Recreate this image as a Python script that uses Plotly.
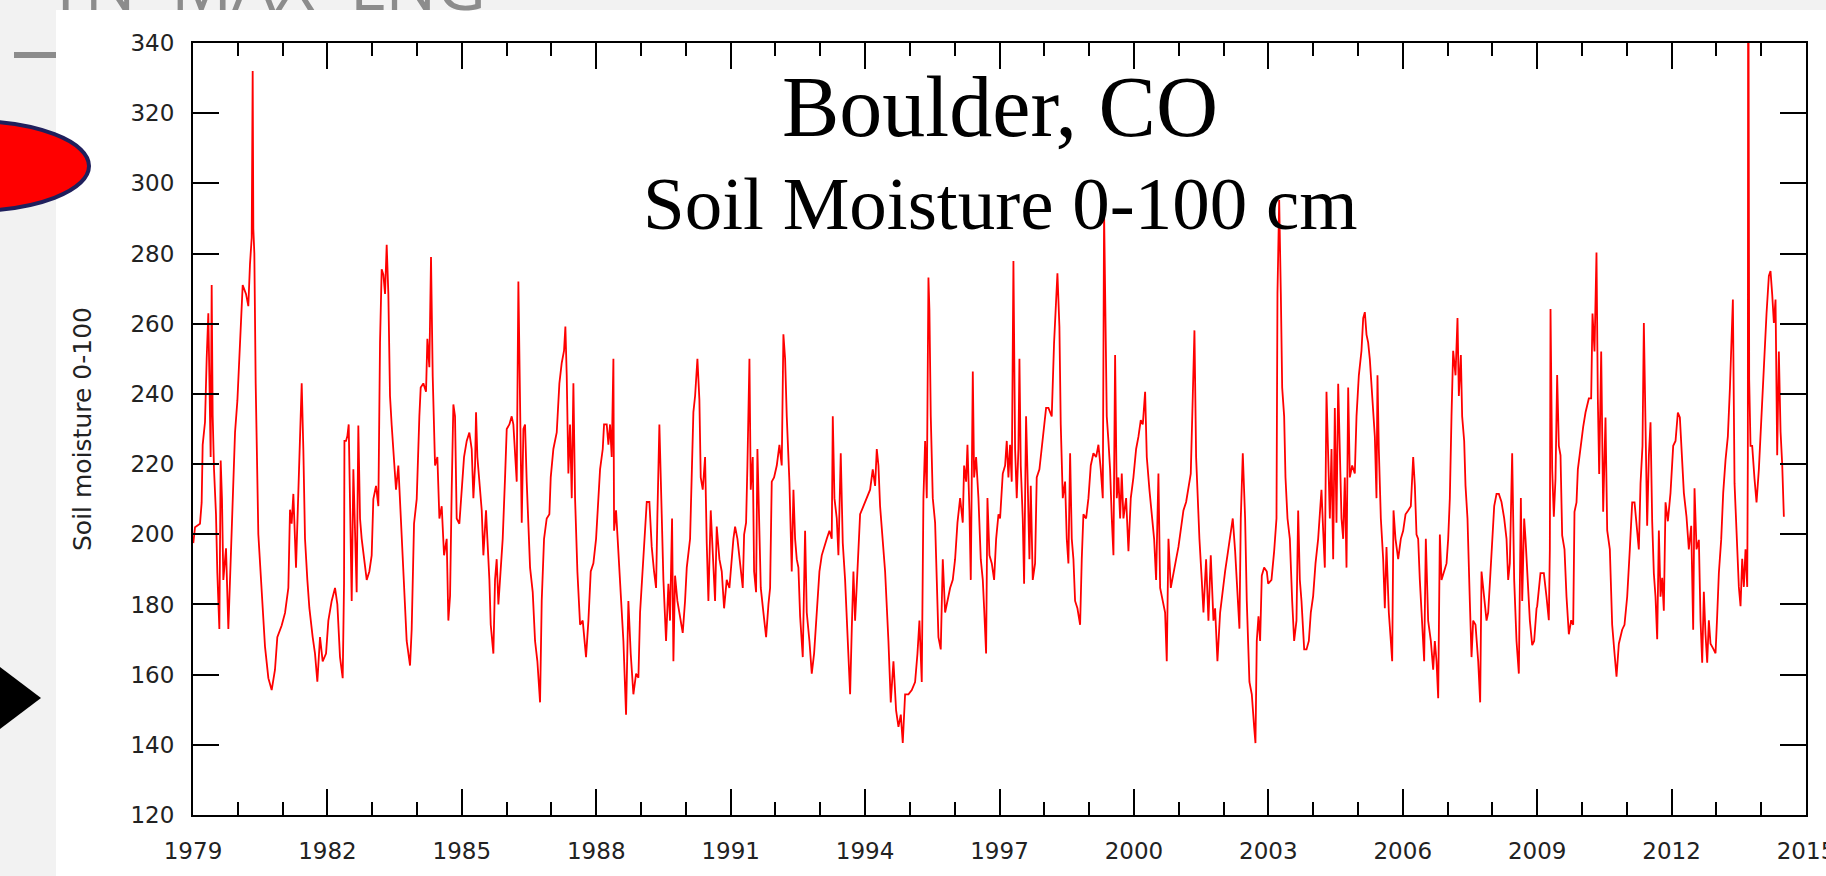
import plotly.graph_objects as go

# ---------------- data (year, soil moisture 0-100 cm) ----------------
seg_1979_1985 = [
    (1979.007, 197.5), (1979.045, 202), (1979.156, 203), (1979.193, 209), (1979.216, 225.5),
    (1979.268, 232), (1979.305, 250), (1979.342, 263), (1979.365, 245), (1979.394, 222),
    (1979.417, 271), (1979.439, 234), (1979.469, 218.5), (1979.513, 205.7), (1979.543, 189),
    (1979.588, 173), (1979.618, 221), (1979.647, 210), (1979.677, 187), (1979.737, 196),
    (1979.789, 173), (1979.826, 187), (1979.885, 206), (1979.938, 229), (1979.990, 238),
    (1980.049, 257), (1980.109, 271), (1980.183, 268.5), (1980.235, 265), (1980.272, 277),
    (1980.310, 284.5), (1980.332, 332), (1980.347, 287), (1980.369, 280), (1980.399, 243),
    (1980.458, 200), (1980.533, 183.5), (1980.607, 168), (1980.682, 159), (1980.756, 155.6),
    (1980.830, 161.4), (1980.882, 170.7), (1980.979, 174), (1981.054, 177.6), (1981.128, 184.7),
    (1981.165, 207), (1981.202, 203), (1981.240, 211.5), (1981.299, 190.5), (1981.351, 212.7),
    (1981.388, 223), (1981.426, 243), (1981.463, 224), (1981.500, 198.7), (1981.552, 187),
    (1981.597, 179), (1981.671, 170.7), (1981.723, 166), (1981.775, 158), (1981.835, 170.7),
    (1981.894, 163.8), (1981.969, 166), (1982.021, 175.4), (1982.095, 181), (1982.170, 184.7),
    (1982.222, 180), (1982.281, 165), (1982.341, 159), (1982.371, 186), (1982.380, 226.6),
    (1982.415, 226.6), (1982.445, 228), (1982.475, 231.3), (1982.504, 208), (1982.542, 181),
    (1982.579, 218.5), (1982.616, 198.7), (1982.653, 183.5), (1982.690, 231), (1982.728, 204.5),
    (1982.765, 198.7), (1982.817, 193), (1982.877, 187), (1982.936, 189.4), (1982.988, 194),
    (1983.025, 210), (1983.085, 213.8), (1983.137, 208), (1983.174, 254.6), (1983.211, 275.5),
    (1983.249, 274), (1983.286, 268.5), (1983.323, 282.5), (1983.360, 268.5), (1983.397, 239.4),
    (1983.435, 231), (1983.487, 222), (1983.531, 212.7), (1983.583, 219.6), (1983.635, 204.5),
    (1983.695, 187), (1983.769, 169.6), (1983.844, 162.6), (1983.881, 173), (1983.933, 203),
    (1983.993, 210), (1984.052, 233.6), (1984.082, 241.8), (1984.141, 243), (1984.201, 240.6),
    (1984.231, 255.7), (1984.275, 247.6), (1984.312, 279), (1984.350, 245), (1984.402, 219.6),
    (1984.454, 222), (1984.499, 204.5), (1984.551, 208), (1984.603, 194), (1984.662, 198.7),
    (1984.699, 175.4), (1984.737, 182.4), (1984.774, 212.7), (1984.811, 237), (1984.848, 233.6),
    (1984.885, 204.5), (1984.945, 203),
]

seg_1985_1991 = [
    (1984.997, 212.7), (1985.049, 222), (1985.109, 226.6), (1985.168, 229), (1985.220, 224.3),
    (1985.258, 210.3), (1985.295, 219.6), (1985.317, 234.8), (1985.347, 222), (1985.392, 213.8),
    (1985.444, 206.8), (1985.481, 194), (1985.540, 206.8), (1985.570, 198.7), (1985.615, 187),
    (1985.645, 174.2), (1985.704, 166), (1985.741, 187), (1985.778, 192.9), (1985.816, 180),
    (1985.868, 189.4), (1985.912, 198.7), (1985.964, 216), (1986.002, 230), (1986.061, 231.3),
    (1986.113, 233.6), (1986.150, 231.3), (1986.188, 222), (1986.225, 215), (1986.262, 272),
    (1986.299, 234.8), (1986.337, 203.3), (1986.374, 230), (1986.411, 231.3), (1986.448, 215),
    (1986.485, 203.3), (1986.523, 190.5), (1986.582, 183.5), (1986.634, 169.6), (1986.686, 163.8),
    (1986.746, 152.1), (1986.783, 181), (1986.835, 198.7), (1986.894, 204.5), (1986.954, 205.7),
    (1986.984, 216.2), (1987.043, 224.3), (1987.118, 229), (1987.177, 243), (1987.229, 248.8),
    (1987.281, 252.3), (1987.311, 259.2), (1987.341, 245.3), (1987.378, 217.3), (1987.415, 231.3),
    (1987.453, 210.3), (1987.490, 243), (1987.527, 210.3), (1987.579, 189.4), (1987.639, 174.2),
    (1987.698, 175.4), (1987.772, 165), (1987.825, 175.4), (1987.877, 189.4), (1987.936, 191.7),
    (1987.996, 198.7), (1988.048, 210.3), (1988.085, 218.5), (1988.145, 224.3), (1988.174, 231.3),
    (1988.234, 231.3), (1988.271, 225.5), (1988.308, 231.3), (1988.345, 222), (1988.383, 250),
    (1988.398, 201), (1988.442, 206.8), (1988.494, 195.2), (1988.546, 181), (1988.606, 169.6),
    (1988.665, 148.6), (1988.717, 181), (1988.769, 166), (1988.829, 154.4), (1988.889, 160.3),
    (1988.941, 159.1), (1988.978, 177.7), (1989.037, 189.4), (1989.089, 198.7), (1989.127, 209.2),
    (1989.186, 209.2), (1989.238, 196.4), (1989.290, 189.4), (1989.335, 184.7), (1989.365, 205.7),
    (1989.409, 231.3), (1989.461, 205.7), (1989.499, 187), (1989.558, 169.6), (1989.610, 185.9),
    (1989.647, 175.4), (1989.692, 204.5), (1989.722, 163.8), (1989.759, 188.2), (1989.811, 181),
    (1989.871, 176.6), (1989.930, 171.9), (1989.982, 181), (1990.020, 190.5), (1990.094, 198.7),
    (1990.168, 234.8), (1990.206, 239.4), (1990.258, 250), (1990.302, 238.3), (1990.332, 216.2),
    (1990.377, 212.7), (1990.429, 222), (1990.466, 197.5), (1990.503, 181), (1990.555, 206.8),
    (1990.600, 192.9), (1990.652, 181), (1990.689, 202.2), (1990.749, 192.9), (1990.801, 189.4),
    (1990.853, 178.9), (1990.912, 187), (1990.972, 184.7),
]

seg_1991_1997 = [
    (1991.061, 198.7), (1991.099, 202.2), (1991.151, 198.7), (1991.210, 191.7), (1991.270, 184.7),
    (1991.300, 199.9), (1991.344, 203.3), (1991.374, 219.6), (1991.419, 250), (1991.448, 212.7),
    (1991.493, 222), (1991.523, 189.4), (1991.567, 183.5), (1991.597, 224.3), (1991.642, 198.7),
    (1991.672, 184.7), (1991.731, 177.7), (1991.791, 170.7), (1991.843, 180), (1991.880, 184.7),
    (1991.917, 215), (1991.969, 216.2), (1992.029, 219.6), (1992.088, 225.5), (1992.140, 219.6),
    (1992.177, 257), (1992.215, 250), (1992.252, 233.6), (1992.311, 215), (1992.363, 189.4),
    (1992.401, 212.7), (1992.438, 198.7), (1992.475, 192.9), (1992.512, 190.5), (1992.550, 176.6),
    (1992.609, 165), (1992.661, 201), (1992.698, 177.7), (1992.758, 169.6), (1992.810, 160.3),
    (1992.862, 166), (1992.921, 177.7), (1992.981, 189.4), (1993.033, 194), (1993.085, 196.4),
    (1993.145, 198.7), (1993.204, 201), (1993.256, 198.7), (1993.279, 233.6), (1993.316, 210.3),
    (1993.368, 204.5), (1993.405, 194), (1993.457, 223.1), (1993.502, 197.5), (1993.554, 187),
    (1993.606, 169.6), (1993.666, 154.4), (1993.703, 173.1), (1993.740, 189.4), (1993.777, 175.4),
    (1993.829, 189.4), (1993.889, 205.7), (1993.963, 208), (1994.038, 210.3), (1994.112, 212.7),
    (1994.171, 218.5), (1994.224, 213.8), (1994.261, 224.3), (1994.298, 219.6), (1994.335, 208),
    (1994.395, 198.7), (1994.447, 189.4), (1994.521, 169.6), (1994.573, 152.1), (1994.633, 163.8),
    (1994.692, 149.8), (1994.745, 145.1), (1994.797, 148.6), (1994.841, 140.5), (1994.893, 154.4),
    (1994.968, 154.4), (1995.042, 155.6), (1995.116, 157.9), (1995.169, 166), (1995.213, 175.4),
    (1995.265, 157.9), (1995.302, 210.3), (1995.340, 226.6), (1995.377, 210.3), (1995.414, 273.2),
    (1995.436, 264), (1995.466, 233.6), (1995.511, 210.3), (1995.563, 203.3), (1995.600, 187),
    (1995.637, 170.7), (1995.689, 167.2), (1995.734, 192.9), (1995.786, 177.7), (1995.838, 181),
    (1995.898, 184.7), (1995.957, 187), (1996.009, 192.9), (1996.062, 203.3), (1996.121, 210.3),
    (1996.180, 203.3), (1996.210, 219.6), (1996.255, 215), (1996.285, 225.5), (1996.329, 206.8),
    (1996.359, 187), (1996.404, 246.4), (1996.433, 216.2), (1996.478, 222), (1996.530, 210.3),
    (1996.582, 192.9), (1996.627, 187), (1996.657, 178.9), (1996.701, 166), (1996.731, 210.3),
    (1996.776, 194), (1996.828, 191.7), (1996.880, 187), (1996.925, 198.7), (1996.977, 205.7),
]

seg_1997_2003 = [
    (1997.013, 204.5), (1997.073, 217.3), (1997.125, 219.6), (1997.162, 226.6), (1997.199, 216.2),
    (1997.236, 225.5), (1997.273, 215), (1997.311, 277.9), (1997.348, 224.3), (1997.385, 210.3),
    (1997.422, 224.3), (1997.445, 250), (1997.474, 219.6), (1997.519, 204.5), (1997.549, 185.9),
    (1997.593, 233.6), (1997.623, 218.5), (1997.668, 192.9), (1997.698, 213.8), (1997.742, 187),
    (1997.794, 191.7), (1997.831, 216.2), (1997.891, 218.5), (1997.943, 224.3), (1997.980, 230.2),
    (1998.040, 236), (1998.092, 236), (1998.166, 233.6), (1998.218, 254.6), (1998.263, 268.6),
    (1998.293, 274.4), (1998.337, 259.2), (1998.367, 231.3), (1998.412, 210.3), (1998.464, 215),
    (1998.501, 198.7), (1998.538, 191.7), (1998.576, 223.1), (1998.613, 198.7), (1998.650, 192.9),
    (1998.687, 181), (1998.739, 178.9), (1998.799, 174.2), (1998.836, 192.9), (1998.873, 205.7),
    (1998.933, 204.5), (1998.985, 210.3), (1999.037, 219.6), (1999.096, 223.1), (1999.156, 222),
    (1999.208, 225.5), (1999.260, 218.5), (1999.305, 210.3), (1999.334, 291.8), (1999.364, 266.2),
    (1999.394, 233.6), (1999.431, 226.6), (1999.468, 218.5), (1999.506, 204.5), (1999.543, 194),
    (1999.580, 251.1), (1999.617, 210.3), (1999.654, 216.2), (1999.692, 204.5), (1999.729, 217.3),
    (1999.766, 204.5), (1999.826, 210.3), (1999.878, 195.2), (1999.930, 210.3), (1999.989, 216.2),
    (2000.049, 224.3), (2000.101, 227.8), (2000.153, 232.5), (2000.198, 231.3), (2000.250, 240.6),
    (2000.287, 222), (2000.346, 212.7), (2000.398, 204.5), (2000.451, 198.7), (2000.495, 187),
    (2000.547, 217.3), (2000.585, 184.7), (2000.644, 181), (2000.696, 177.7), (2000.733, 163.8),
    (2000.771, 198.7), (2000.823, 184.7), (2000.882, 189.4), (2000.942, 192.9), (2000.994, 196.4),
    (2001.046, 201), (2001.105, 206.8), (2001.165, 209.2), (2001.217, 212.7), (2001.269, 217.3),
    (2001.314, 239.4), (2001.351, 258.1), (2001.388, 222), (2001.418, 210.3), (2001.462, 198.7),
    (2001.514, 187), (2001.552, 177.7), (2001.611, 192.9), (2001.663, 175.4), (2001.715, 194),
    (2001.775, 175.4), (2001.812, 178.9), (2001.864, 163.8), (2001.924, 177.7), (2001.983, 184.7),
    (2002.035, 189.4), (2002.087, 194), (2002.147, 198.7), (2002.206, 204.5), (2002.259, 195.2),
    (2002.311, 184.7), (2002.355, 173.1), (2002.385, 204.5), (2002.430, 223.1), (2002.482, 204.5),
    (2002.519, 181), (2002.578, 157.9), (2002.631, 154.4), (2002.683, 145.1), (2002.713, 140.5),
    (2002.742, 169.6), (2002.780, 176.6), (2002.817, 169.6), (2002.854, 188.2), (2002.906, 190.5),
    (2002.966, 189.4),
]

seg_2003_2009 = [
    (2002.996, 185.9), (2003.070, 187), (2003.130, 195.2), (2003.182, 204.5), (2003.204, 268.6),
    (2003.242, 295.3), (2003.279, 268.6), (2003.309, 241.8), (2003.353, 233.6), (2003.383, 216.2),
    (2003.428, 204.5), (2003.480, 198.7), (2003.532, 181), (2003.576, 169.6), (2003.628, 175.4),
    (2003.666, 206.8), (2003.703, 187), (2003.740, 181), (2003.800, 167.2), (2003.852, 167.2),
    (2003.904, 169.6), (2003.948, 177.7), (2004.000, 182.4), (2004.053, 191.7), (2004.112, 198.7),
    (2004.149, 204.5), (2004.186, 212.7), (2004.224, 201), (2004.261, 190.5), (2004.298, 240.6),
    (2004.335, 222), (2004.373, 204.5), (2004.410, 224.3), (2004.447, 192.9), (2004.484, 236),
    (2004.521, 203.3), (2004.559, 242.9), (2004.596, 222), (2004.633, 204.5), (2004.670, 198.7),
    (2004.707, 216.2), (2004.745, 190.5), (2004.782, 241.8), (2004.819, 216.2), (2004.871, 219.6),
    (2004.930, 217.3), (2004.968, 233.6), (2005.020, 245.3), (2005.079, 252.3), (2005.117, 261.6),
    (2005.154, 263.3), (2005.191, 256.9), (2005.228, 254.6), (2005.265, 249.9), (2005.303, 242.9),
    (2005.340, 233.6), (2005.377, 227.8), (2005.414, 210.3), (2005.436, 245.3), (2005.466, 224.3),
    (2005.511, 204.5), (2005.563, 192.9), (2005.600, 178.9), (2005.637, 196.4), (2005.689, 177.7),
    (2005.734, 169.6), (2005.764, 163.8), (2005.794, 206.8), (2005.838, 198.7), (2005.898, 192.9),
    (2005.957, 198.7), (2006.009, 201), (2006.062, 205.7), (2006.121, 206.8), (2006.180, 208),
    (2006.233, 222), (2006.270, 213.8), (2006.307, 199.9), (2006.344, 198.7), (2006.381, 187),
    (2006.434, 175.4), (2006.478, 163.8), (2006.515, 198.7), (2006.567, 175.4), (2006.627, 169.6),
    (2006.679, 161.4), (2006.716, 169.6), (2006.754, 163.8), (2006.791, 153.3), (2006.828, 199.9),
    (2006.865, 187), (2006.925, 189.4), (2006.977, 191.7), (2007.014, 198.7), (2007.051, 210.3),
    (2007.088, 233.6), (2007.125, 252.3), (2007.178, 245.3), (2007.222, 261.6), (2007.252, 239.4),
    (2007.297, 251.1), (2007.326, 233.6), (2007.371, 226.6), (2007.401, 213.8), (2007.445, 204.5),
    (2007.497, 181), (2007.535, 165), (2007.572, 175.4), (2007.624, 174.2), (2007.684, 163.8),
    (2007.728, 152.1), (2007.758, 189.4), (2007.818, 181), (2007.870, 175.4), (2007.907, 177.7),
    (2007.944, 187), (2007.996, 197.5), (2008.041, 208), (2008.093, 211.5), (2008.145, 211.5),
    (2008.204, 209.2), (2008.264, 204.5), (2008.316, 198.7), (2008.353, 187), (2008.390, 191.7),
    (2008.442, 223.1), (2008.487, 187), (2008.539, 169.6), (2008.591, 160.3), (2008.636, 210.3),
    (2008.666, 181), (2008.710, 204.5), (2008.740, 198.7), (2008.785, 187), (2008.837, 175.4),
    (2008.889, 168.4), (2008.933, 169.6), (2008.986, 178.9),
]

seg_2009_2015 = [
    (2009.000, 179.5), (2009.074, 188.9), (2009.149, 188.9), (2009.208, 182.2), (2009.260, 175.5),
    (2009.283, 195.7), (2009.298, 264.2), (2009.335, 218.5), (2009.372, 205), (2009.409, 215.8),
    (2009.446, 245.4), (2009.484, 225.2), (2009.521, 222.5), (2009.558, 199.7), (2009.610, 195.7),
    (2009.655, 182.2), (2009.707, 171.5), (2009.759, 175.5), (2009.804, 174.2), (2009.833, 206.4),
    (2009.878, 209.1), (2009.908, 218.5), (2009.967, 225.2), (2010.027, 230.6), (2010.079, 234.7),
    (2010.153, 238.7), (2010.205, 238.7), (2010.235, 262.9), (2010.280, 252.1), (2010.324, 280.3),
    (2010.354, 238.7), (2010.384, 217.2), (2010.429, 252.1), (2010.473, 206.4), (2010.525, 233.3),
    (2010.563, 201.1), (2010.622, 195.7), (2010.674, 174.2), (2010.726, 166.1), (2010.771, 159.4),
    (2010.823, 168.8), (2010.897, 172.8), (2010.949, 174.2), (2011.009, 182.2), (2011.068, 195.7),
    (2011.121, 209.1), (2011.173, 209.1), (2011.217, 202.4), (2011.269, 195.7), (2011.307, 214.5),
    (2011.351, 225.2), (2011.381, 260.2), (2011.418, 226.6), (2011.455, 202.4), (2011.493, 222.5),
    (2011.530, 231.9), (2011.567, 203.7), (2011.604, 188.9), (2011.641, 182.2), (2011.679, 170.1),
    (2011.716, 201.1), (2011.753, 182.2), (2011.790, 187.6), (2011.827, 178.2), (2011.865, 209.1),
    (2011.917, 203.7), (2011.976, 211.8), (2012.036, 225.2), (2012.088, 226.6), (2012.140, 234.7),
    (2012.185, 233.3), (2012.237, 222.5), (2012.274, 211.8), (2012.333, 205), (2012.385, 195.7),
    (2012.438, 202.4), (2012.482, 172.8), (2012.512, 213.1), (2012.557, 195.7), (2012.609, 198.4),
    (2012.646, 175.5), (2012.683, 163.4), (2012.720, 183.6), (2012.757, 171.5), (2012.795, 163.4),
    (2012.832, 175.5), (2012.869, 168.8), (2012.929, 167.4), (2012.981, 166.1), (2013.018, 176.9),
    (2013.055, 188.9), (2013.107, 198.4), (2013.152, 211.8), (2013.204, 221.2), (2013.256, 227.9),
    (2013.301, 241.4), (2013.330, 254.8), (2013.368, 266.9), (2013.405, 214.5), (2013.449, 198.4),
    (2013.501, 185), (2013.539, 179.5), (2013.576, 193), (2013.613, 185), (2013.650, 195.7),
    (2013.688, 185), (2013.702, 222.5), (2013.710, 400), (2013.732, 244.1), (2013.762, 225.2),
    (2013.799, 225.2), (2013.851, 215.8), (2013.896, 209.1), (2013.948, 218.5), (2014.000, 233.3),
    (2014.060, 246.7), (2014.119, 262.9), (2014.171, 273.6), (2014.208, 275), (2014.246, 268.3),
    (2014.283, 260.2), (2014.320, 266.9), (2014.357, 222.5), (2014.394, 252.1), (2014.432, 229.3),
    (2014.469, 219.9), (2014.506, 205),
]

year_ticks = [1979, 1982, 1985, 1988, 1991, 1994, 1997, 2000, 2003, 2006, 2009, 2012, 2015]
y_ticks = [120, 140, 160, 180, 200, 220, 240, 260, 280, 300, 320, 340]

title_main = "Boulder, CO"
title_sub = "Soil Moisture 0-100 cm"
y_title = "Soil moisture 0-100"
header_text = "TN  MAX  LNG*"

segments = [seg_1979_1985, seg_1985_1991, seg_1991_1997, seg_1997_2003, seg_2003_2009, seg_2009_2015]
years = [p[0] for s in segments for p in s]
values = [p[1] for s in segments for p in s]

# ---------------- layout geometry (pixels) ----------------
W, H = 1826, 876
ML, MR, MT, MB = 193, 20, 43, 61
PW, PH = W - ML - MR, H - MT - MB


def px(x):
    return (x - ML) / PW


def py(y):
    return (H - MB - y) / PH


fig = go.Figure()
fig.add_trace(go.Scatter(x=years, y=values, mode="lines",
                         line=dict(color="#ff0000", width=1.8), hoverinfo="skip"))

axis_common = dict(
    showline=True, linecolor="#000000", linewidth=2, mirror="ticks",
    ticks="inside", ticklen=26, tickwidth=2, tickcolor="#000000",
    showgrid=False, zeroline=False, ticklabeloverflow="allow", automargin=False,
    tickfont=dict(family="DejaVu Sans", size=23, color="#222222"),
)

fig.update_layout(
    width=W, height=H, autosize=False,
    margin=dict(l=ML, r=MR, t=MT, b=MB, pad=0, autoexpand=False),
    paper_bgcolor="#f2f2f2", plot_bgcolor="#ffffff",
    showlegend=False,
    xaxis=dict(range=[1979, 2015], tickmode="array", tickvals=year_ticks,
               ticktext=[str(v) for v in year_ticks],
               minor=dict(ticks="inside", ticklen=13, tickwidth=2, tickcolor="#000000",
                          dtick=1, tick0=1979, showgrid=False),
               ticklabelstandoff=14, **axis_common),
    yaxis=dict(range=[120, 340], tickmode="array", tickvals=y_ticks,
               ticktext=[str(v) for v in y_ticks], ticklabelstandoff=12, **axis_common),
)

# slide decorations
fig.add_shape(type="rect", xref="paper", yref="paper", layer="below",
              x0=px(56), x1=px(W + 10), y0=py(10), y1=py(H + 10),
              fillcolor="#ffffff", line=dict(width=0))
fig.add_shape(type="rect", xref="paper", yref="paper",
              x0=px(14), x1=px(56), y0=py(52), y1=py(58),
              fillcolor="#8c8c8c", line=dict(width=0))
fig.add_shape(type="circle", xref="paper", yref="paper",
              x0=px(-29 - 118), x1=px(-29 + 118), y0=py(166 - 45), y1=py(166 + 45),
              fillcolor="#ff0000", line=dict(color="#1f1f5c", width=4))
fig.add_shape(type="path", xref="paper", yref="paper",
              path=f"M {px(-20)} {py(652)} L {px(41)} {py(698)} L {px(-20)} {py(744)} Z",
              fillcolor="#000000", line=dict(width=0))

fig.add_annotation(text=header_text, xref="paper", yref="paper", x=px(285), y=py(32),
                   xanchor="center", yanchor="bottom", showarrow=False,
                   font=dict(family="Open Sans", size=68, color="#8c8c8c"))
fig.add_annotation(text=title_main, xref="paper", yref="paper", x=px(1000), y=py(107),
                   xanchor="center", yanchor="middle", showarrow=False,
                   font=dict(family="Liberation Serif", size=86, color="#000000"))
fig.add_annotation(text=title_sub, xref="paper", yref="paper", x=px(1000), y=py(204),
                   xanchor="center", yanchor="middle", showarrow=False,
                   font=dict(family="Liberation Serif", size=75, color="#000000"))
fig.add_annotation(text=y_title, xref="paper", yref="paper", x=px(82), y=py(429),
                   xanchor="center", yanchor="middle", textangle=-90, showarrow=False,
                   font=dict(family="DejaVu Sans", size=25, color="#222222"))

fig.write_html("out.html", config={"displayModeBar": False},
               post_script="document.body.style.margin='0';document.body.style.overflow='hidden';")
